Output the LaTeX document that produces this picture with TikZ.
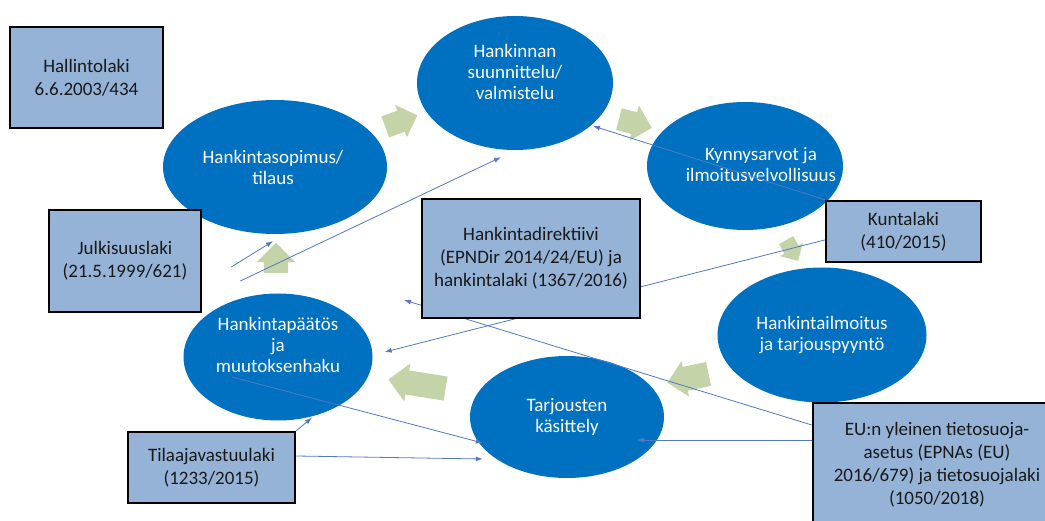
\documentclass[tikz,border=0pt]{standalone}
\usepackage{fontspec}
\setmainfont{Carlito}
\usetikzlibrary{shapes.geometric,shapes.arrows,arrows.meta,calc}
\definecolor{procblue}{RGB}{0,112,192}
\definecolor{lawblue}{RGB}{149,179,215}
\definecolor{flowgreen}{RGB}{196,212,168}
\definecolor{linkblue}{RGB}{84,120,198}
\tikzset{
  proc/.style={ellipse, fill=procblue, inner sep=0pt},
  proctext/.style={text=white, align=center, font=\fontsize{19}{21}\selectfont},
  law/.style={rectangle, draw=black, line width=2.5pt, fill=lawblue, text=black!90,
              align=center, font=\fontsize{19}{23}\selectfont, inner sep=0pt},
  flow/.style={single arrow, fill=flowgreen, draw=none, inner xsep=0pt},
  link/.style={draw=linkblue, line width=0.8pt, -{Latex[length=7pt,width=5pt]}},
}
\begin{document}
\begin{tikzpicture}[x=1pt,y=-1pt]
        \useasboundingbox (0,0) rectangle (1045,521);
        \clip (0,0) rectangle (1045,521);

        \node[proc, minimum width=196pt, minimum height=134pt] (suunnittelu) at (515,83) {};
        \node[proctext] (suunnittelu-txt) at (515,72) {Hankinnan\\suunnittelu/\\valmistelu};
        \node[proc, minimum width=196pt, minimum height=128pt] (kynnys) at (745,166) {};
        \node[proctext] (kynnys-txt) at (761,165) {Kynnysarvot ja\\ilmoitusvelvollisuus};
        \node[proc, minimum width=224pt, minimum height=134pt] (sopimus) at (275,167) {};
        \node[proctext] (sopimus-txt) at (273,167) {Hankintasopimus/\\tilaus};
        \node[proc, minimum width=209pt, minimum height=135pt] (ilmoitus) at (822,335) {};
        \node[proctext] (ilmoitus-txt) at (822,335) {Hankintailmoitus\\ja tarjouspyyntö};
        \node[proc, minimum width=194pt, minimum height=122pt] (tarjous) at (567,417) {};
        \node[proctext] (tarjous-txt) at (567,417) {Tarjousten\\käsittely};
        \node[proc, minimum width=189pt, minimum height=127pt] (paatos) at (278,357) {};
        \node[proctext] (paatos-txt) at (278,345) {Hankintapäätös\\ja\\muutoksenhaku};

        \node[flow, rotate=20, minimum height=34pt, inner ysep=11pt, single arrow head extend=6pt] (f1) at (396,123) {};
        \node[flow, rotate=-15, minimum height=34pt, inner ysep=11pt, single arrow head extend=7pt] (f2) at (630,122) {};
        \node[flow, rotate=-60, minimum height=24pt, inner ysep=8pt, single arrow head extend=5pt] (f3) at (790,247) {};
        \node[flow, rotate=192, minimum height=42pt, inner ysep=12pt, single arrow head extend=6pt] (f4) at (694,377) {};
        \node[flow, rotate=171, minimum height=58pt, inner ysep=12pt, single arrow head extend=7pt] (f5) at (423,385) {};
        \node[flow, rotate=90, minimum height=30pt, inner ysep=12pt, single arrow head extend=7pt] (f6) at (276,264) {};

        \node[law, minimum width=153pt, minimum height=101pt] (hallinto) at (86.5,77.5) {Hallintolaki\\6.6.2003/434};
        \node[law, minimum width=152pt, minimum height=102pt] (julkisuus) at (125,261) {Julkisuuslaki\\(21.5.1999/621)};
        \node[law, minimum width=155pt, minimum height=61pt] (kunta) at (903.5,231.5) {Kuntalaki\\(410/2015)};
        \node[law, minimum width=167pt, minimum height=71pt] (tilaaja) at (211.5,467.5) {Tilaajavastuulaki\\(1233/2015)};
        \node[law, minimum width=248pt, minimum height=124pt] (eu) at (937,465) {EU:n yleinen tietosuoja-\\asetus (EPNAs (EU)\\2016/679) ja tietosuojalaki\\(1050/2018)};

        \draw[link] ($(julkisuus.east)+(29,6)$) -- ($(sopimus.south)+(-2,7)$);
        \draw[link] ($(julkisuus.east)+(38,20)$) -- ($(suunnittelu.south)+(-14,7)$);
        \draw[link] (kunta.north west) -- ($(suunnittelu.center)+(78,43)$);
        \draw[link] ($(kunta.west)+(0,8.5)$) -- ($(paatos.east)+(12,-5)$);
        \draw[link] ($(eu.west)+(0,-40)$) -- ($(tarjous.center)+(-163,-117)$);
        \draw[link] ($(eu.west)+(0,-25)$) -- ($(tarjous.center)+(70,23)$);
        \draw[link] ($(paatos.center)+(-46,20)$) -- ($(tarjous.west)+(13,26)$);
        \draw[link] (tilaaja.north east) -- ($(paatos.south)+(34,-3)$);
        \draw[link] ($(tilaaja.east)+(0,-11.5)$) -- ($(tarjous.west)+(13,42)$);

        \node[law, minimum width=218pt, minimum height=119pt] (direktiivi) at (531,258.5) {Hankintadirektiivi\\(EPNDir 2014/24/EU) ja\\hankintalaki (1367/2016)};
    \end{tikzpicture}
\end{document}
